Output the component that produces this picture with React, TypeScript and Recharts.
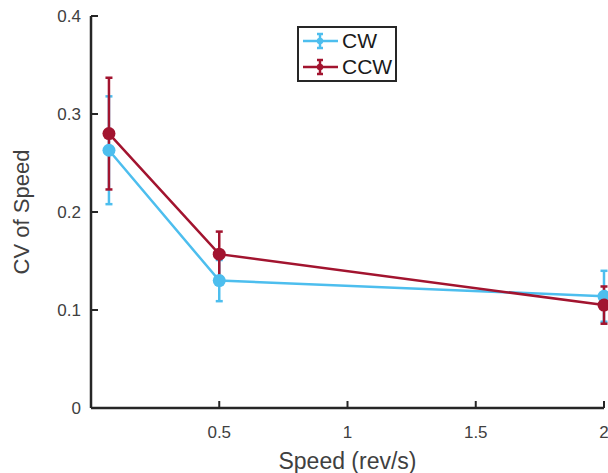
import React from 'react';
import { LineChart, Line, XAxis, YAxis, ErrorBar, Legend } from 'recharts';

const speeds = [0.07, 0.5, 2];
const cwMean = [0.263, 0.130, 0.114];
const cwErr = [0.055, 0.021, 0.026];
const ccwMean = [0.280, 0.157, 0.105];
const ccwErr = [0.057, 0.023, 0.019];
const xTicks = [0.5, 1, 1.5, 2];
const yTicks = [0, 0.1, 0.2, 0.3, 0.4];

const CW_COLOR = '#4DBEEE';
const CCW_COLOR = '#A2142F';
const AXIS = '#262626';
const TEXT = '#404040';
const FONT = '"Liberation Sans", Arial, Helvetica, sans-serif';

const data = speeds.map((s, i) => ({
  speed: s,
  cw: cwMean[i],
  cwErr: cwErr[i],
  ccw: ccwMean[i],
  ccwErr: ccwErr[i],
}));

const YTick = (props: any) => {
  const { x, y, payload } = props;
  return (
    <g>
      <line x1={x} x2={x + 7} y1={y} y2={y} stroke={AXIS} strokeWidth={2} />
      <text x={x - 10} y={y} dy={6} textAnchor="end" fontSize={17} fill={TEXT} fontFamily={FONT}>
        {String(payload.value)}
      </text>
    </g>
  );
};

const XTick = (props: any) => {
  const { x, y, payload } = props;
  return (
    <g>
      <line x1={x} x2={x} y1={y} y2={y - 7} stroke={AXIS} strokeWidth={2} />
      <text x={x} y={y + 30} textAnchor="middle" fontSize={17} fill={TEXT} fontFamily={FONT}>
        {String(payload.value)}
      </text>
    </g>
  );
};

const legendItems = [
  { name: 'CW', color: CW_COLOR },
  { name: 'CCW', color: CCW_COLOR },
];

const LegendBox = () => (
  <div
    style={{
      width: 96,
      height: 52,
      border: `2.5px solid ${AXIS}`,
      background: '#fff',
      boxSizing: 'content-box',
      fontFamily: FONT,
    }}
  >
    {legendItems.map((it) => (
      <div key={it.name} style={{ position: 'relative', height: 26, display: 'flex', alignItems: 'center' }}>
        <svg width={43} height={26} style={{ display: 'block' }}>
          <line x1={4} x2={39} y1={13} y2={13} stroke={it.color} strokeWidth={2.5} />
          <line x1={21} x2={21} y1={6} y2={20} stroke={it.color} strokeWidth={2.5} />
          <line x1={18} x2={24} y1={6} y2={6} stroke={it.color} strokeWidth={2.5} />
          <line x1={18} x2={24} y1={20} y2={20} stroke={it.color} strokeWidth={2.5} />
          <circle cx={21} cy={13} r={3.2} fill={it.color} />
        </svg>
        <span style={{ fontSize: 21, color: '#1a1a1a', lineHeight: '26px' }}>{it.name}</span>
      </div>
    ))}
  </div>
);

export default function App() {
  return (
    <div style={{ position: 'absolute', left: 0, top: 0, background: '#fff' }}>
      <LineChart width={608} height={473} data={data} margin={{ top: 16, right: 4, bottom: 0, left: 0 }}>
        <XAxis
          dataKey="speed"
          type="number"
          domain={[0, 2]}
          ticks={xTicks}
          tick={<XTick />}
          tickLine={false}
          tickSize={0}
          tickMargin={0}
          axisLine={{ stroke: AXIS, strokeWidth: 2.5 }}
          height={65}
          label={{ value: 'Speed (rev/s)', position: 'insideBottom', offset: 4, fontSize: 23, fill: TEXT, fontFamily: FONT }}
        />
        <YAxis
          type="number"
          domain={[0, 0.4]}
          ticks={yTicks}
          tick={<YTick />}
          tickLine={false}
          tickSize={0}
          tickMargin={0}
          axisLine={{ stroke: AXIS, strokeWidth: 2.5 }}
          width={91}
          label={{ value: 'CV of Speed', angle: -90, position: 'insideLeft', offset: 21, fontSize: 22, fill: TEXT, fontFamily: FONT, style: { textAnchor: 'middle' } }}
        />
        <Legend
          layout="vertical"
          align="center"
          verticalAlign="middle"
          content={() => <LegendBox />}
          wrapperStyle={{ left: 297, top: 26, width: 101 }}
        />
        <Line
          dataKey="cw"
          stroke={CW_COLOR}
          strokeWidth={2.5}
          dot={{ r: 6.5, fill: CW_COLOR, stroke: CW_COLOR, strokeWidth: 0 }}
          isAnimationActive={false}
        >
          <ErrorBar dataKey="cwErr" direction="y" width={3.5} stroke={CW_COLOR} strokeWidth={2.5} />
        </Line>
        <Line
          dataKey="ccw"
          stroke={CCW_COLOR}
          strokeWidth={2.5}
          dot={{ r: 6.5, fill: CCW_COLOR, stroke: CCW_COLOR, strokeWidth: 0 }}
          isAnimationActive={false}
        >
          <ErrorBar dataKey="ccwErr" direction="y" width={3.5} stroke={CCW_COLOR} strokeWidth={2.5} />
        </Line>
      </LineChart>
    </div>
  );
}
